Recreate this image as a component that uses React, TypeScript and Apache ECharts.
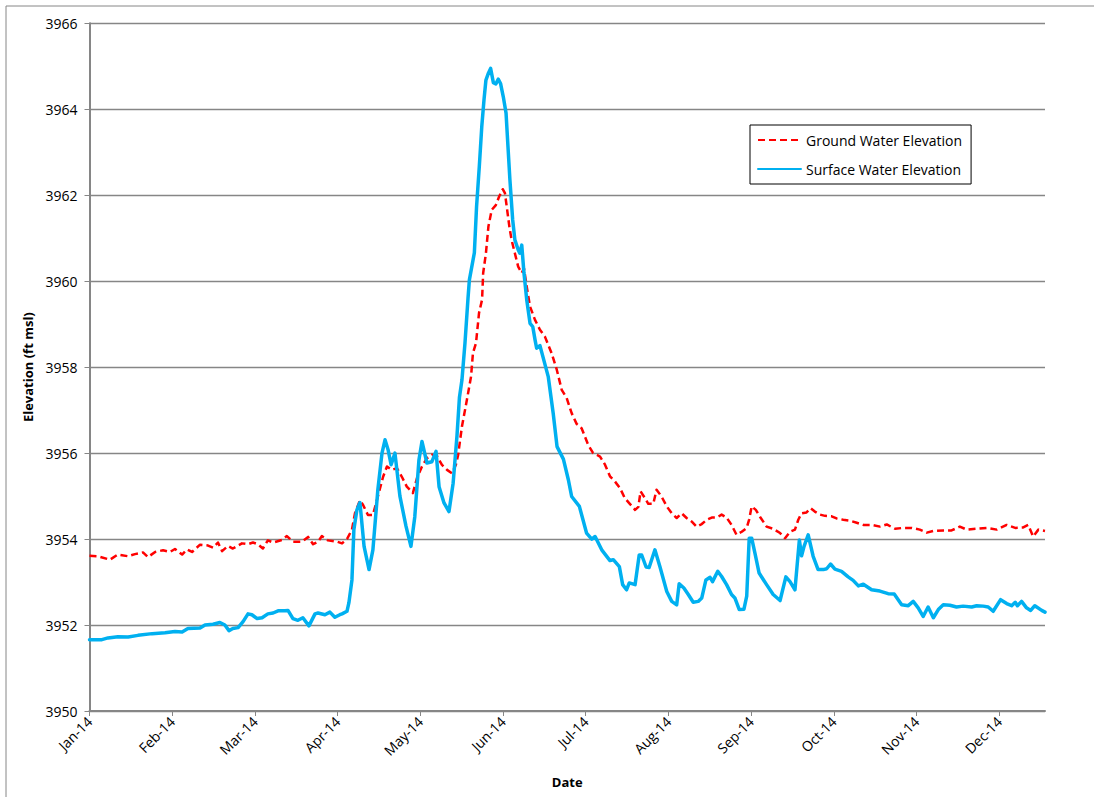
import React, { useEffect, useRef } from "react";
import * as echarts from "echarts";

// x = day index (30 units per month tick), y = elevation (ft msl)
const monthLabels = ["Jan-14", "Feb-14", "Mar-14", "Apr-14", "May-14", "Jun-14", "Jul-14", "Aug-14", "Sep-14", "Oct-14", "Nov-14", "Dec-14"];
const axisDays = { min: 0, max: 346.6, step: 30 };
const elevationTicks = { min: 3950, max: 3966, step: 2 };

const groundWater: [number, number][] = [
  [0, 3953.61], [3.1, 3953.6], [7.4, 3953.52], [10.3, 3953.64], [14, 3953.6], [16.5, 3953.65], [19.4, 3953.69],
  [21.2, 3953.58], [23.8, 3953.7], [26.7, 3953.74], [29.2, 3953.7], [31, 3953.77], [33.6, 3953.64], [35.4, 3953.76],
  [37.2, 3953.7], [40.1, 3953.87], [43, 3953.85], [44.8, 3953.8], [46.6, 3953.92], [48.1, 3953.72], [50.2, 3953.84],
  [52, 3953.78], [55.3, 3953.9], [57.5, 3953.88], [59.3, 3953.92], [61.1, 3953.88], [62.9, 3953.78], [64.7, 3953.97],
  [66.6, 3953.92], [69.8, 3953.98], [71.6, 3954.07], [73.8, 3953.94], [77.1, 3953.94], [79.3, 3954.05], [81.1, 3953.88],
  [82.9, 3953.94], [84.3, 3954.07], [86.5, 3953.97], [89.8, 3953.94], [91.6, 3953.9], [93.4, 3954.0], [95.2, 3954.22],
  [96.3, 3954.6], [98.1, 3954.9], [99.2, 3954.8], [101, 3954.56], [102.8, 3954.56], [104.6, 3954.99], [106.5, 3955.45],
  [107.9, 3955.69], [109.7, 3955.61], [111.5, 3955.65], [113.3, 3955.45], [115.1, 3955.22], [117.3, 3955.07],
  [118.8, 3955.42], [120.6, 3955.69], [122.4, 3955.88], [124.2, 3955.96], [126, 3955.94], [127.8, 3955.73],
  [129.7, 3955.61], [131.5, 3955.53], [132.9, 3955.73], [133.7, 3955.95], [135.1, 3956.62], [136.9, 3957.24],
  [138.4, 3957.78], [139.1, 3958.33], [140.2, 3958.56], [141.3, 3959.26], [142.4, 3959.57], [142.8, 3960.19],
  [143.8, 3960.65], [144.7, 3961.27], [145.9, 3961.66], [147.4, 3961.77], [148.6, 3961.97], [149.9, 3962.14],
  [150.7, 3962.05], [151.5, 3961.66], [152.3, 3961.27], [153.1, 3960.96], [154.3, 3960.65], [155.5, 3960.34],
  [156.8, 3960.19], [157.6, 3960.3], [158.6, 3959.87], [159.8, 3959.41], [161.6, 3959.1], [163.4, 3958.87],
  [165.2, 3958.71], [167.6, 3958.33], [169.5, 3957.94], [171.3, 3957.47], [173.1, 3957.28], [174.9, 3956.93],
  [176.7, 3956.68], [178.5, 3956.58], [180.9, 3956.19], [182.7, 3956.0], [185.2, 3955.92], [187, 3955.73],
  [188.8, 3955.46], [190.6, 3955.34], [192.4, 3955.19], [194.2, 3954.95], [196, 3954.82], [197.9, 3954.68],
  [199.1, 3954.75], [199.9, 3955.11], [201.5, 3954.95], [202.7, 3954.82], [204.5, 3954.82], [205.7, 3955.15],
  [207.5, 3954.99], [209.4, 3954.76], [211.2, 3954.6], [213, 3954.49], [214.8, 3954.6], [216.6, 3954.49],
  [218.4, 3954.41], [220.2, 3954.29], [222.1, 3954.35], [223.9, 3954.45], [225.7, 3954.5], [227.5, 3954.5],
  [229.3, 3954.57], [231.1, 3954.5], [232.9, 3954.33], [234.7, 3954.1], [236.6, 3954.17], [238.4, 3954.26],
  [239.3, 3954.46], [240.2, 3954.76], [241.7, 3954.68], [243.2, 3954.52], [245.6, 3954.29], [248, 3954.24],
  [250.5, 3954.14], [252.3, 3954.02], [254.1, 3954.17], [255.9, 3954.22], [257.1, 3954.45], [258.3, 3954.6],
  [260.1, 3954.62], [261.6, 3954.72], [263.1, 3954.64], [265, 3954.57], [266.8, 3954.54], [269.2, 3954.53],
  [271, 3954.48], [273.4, 3954.45], [275.8, 3954.43], [278.3, 3954.38], [280.7, 3954.33], [283.7, 3954.33],
  [286.7, 3954.29], [289.2, 3954.34], [292.2, 3954.24], [295.2, 3954.26], [298.2, 3954.26], [301.2, 3954.22],
  [303.7, 3954.15], [306.1, 3954.19], [309.7, 3954.2], [312.7, 3954.2], [315.7, 3954.29], [318.2, 3954.22],
  [321.8, 3954.24], [325.4, 3954.26], [329.1, 3954.22], [332.7, 3954.33], [335.8, 3954.26], [338.7, 3954.27],
  [340.5, 3954.33], [342.3, 3954.06], [344.2, 3954.22], [346.6, 3954.19],
];

const surfaceWater: [number, number][] = [
  [0, 3951.66], [4.5, 3951.66], [6.7, 3951.7], [10.3, 3951.73], [14, 3951.72], [17.6, 3951.76], [22.7, 3951.8],
  [27.4, 3951.82], [31, 3951.85], [33.6, 3951.84], [35.7, 3951.92], [40.1, 3951.93], [41.9, 3952.0], [44.8, 3952.02],
  [47.3, 3952.06], [49.1, 3952.0], [50.6, 3951.87], [52, 3951.92], [53.9, 3951.94], [55.7, 3952.08], [57.5, 3952.26],
  [58.9, 3952.24], [60.8, 3952.15], [62.6, 3952.17], [64.7, 3952.26], [66.6, 3952.28], [68.4, 3952.33], [70.9, 3952.33],
  [72, 3952.34], [73.8, 3952.15], [75.6, 3952.11], [77.4, 3952.17], [79.6, 3951.98], [81.8, 3952.26], [82.9, 3952.28],
  [85.4, 3952.24], [87.2, 3952.3], [89, 3952.18], [90.8, 3952.24], [91.6, 3952.26], [93.4, 3952.32], [94.1, 3952.52],
  [95.2, 3953.05], [95.9, 3954.22], [97, 3954.68], [98.1, 3954.85], [99.6, 3953.83], [101.4, 3953.29], [102.8, 3953.75],
  [104.6, 3955.15], [106.1, 3956.0], [107.2, 3956.31], [108.3, 3956.08], [109.4, 3955.73], [110.8, 3956.0],
  [112.6, 3955.0], [114.8, 3954.3], [116.6, 3953.83], [118, 3954.52], [119.5, 3955.84], [120.6, 3956.27],
  [122.4, 3955.77], [124.2, 3955.8], [125.7, 3956.04], [126.8, 3955.22], [128.6, 3954.84], [130.4, 3954.64],
  [131.9, 3955.3], [133.3, 3956.4], [134.2, 3957.3], [135.1, 3957.7], [136.2, 3958.56], [137.3, 3959.6],
  [137.8, 3960.03], [139.6, 3960.66], [140.4, 3961.73], [141.4, 3962.67], [142.3, 3963.6], [143.1, 3964.22],
  [143.8, 3964.68], [144.7, 3964.84], [145.5, 3964.95], [146.5, 3964.62], [147.4, 3964.59], [148.3, 3964.7],
  [149.1, 3964.6], [150.1, 3964.29], [151.1, 3963.91], [151.8, 3963.13], [152.5, 3962.36], [153.5, 3961.43],
  [154.3, 3960.96], [155.5, 3960.73], [156.1, 3960.65], [156.8, 3960.84], [157.6, 3960.19], [158.6, 3959.57],
  [159.8, 3959.02], [160.8, 3958.94], [161.6, 3958.64], [162.2, 3958.44], [163.4, 3958.5], [166.4, 3957.78],
  [168.2, 3956.93], [169.6, 3956.15], [171.9, 3955.86], [173.7, 3955.38], [174.9, 3954.99], [177.7, 3954.76],
  [180.3, 3954.14], [182.2, 3954.0], [183.4, 3954.06], [185.8, 3953.75], [188.8, 3953.5], [190, 3953.52],
  [192.2, 3953.36], [193.4, 3952.94], [194.8, 3952.82], [195.8, 3952.98], [197.9, 3952.94], [199.4, 3953.63],
  [200.3, 3953.63], [201.9, 3953.35], [203, 3953.34], [205.1, 3953.75], [206.9, 3953.36], [209.4, 3952.78],
  [211.2, 3952.55], [213, 3952.47], [213.9, 3952.96], [215.6, 3952.86], [217.2, 3952.71], [219, 3952.53],
  [220.8, 3952.55], [222.1, 3952.63], [223.6, 3953.05], [225.1, 3953.11], [226, 3953.01], [227.9, 3953.25],
  [229.3, 3953.13], [231.1, 3952.94], [232.9, 3952.71], [234.1, 3952.63], [235.7, 3952.36], [237.4, 3952.37],
  [238.4, 3952.67], [239.3, 3954.02], [240.2, 3954.02], [241.4, 3953.67], [242.9, 3953.21], [245.6, 3952.94],
  [248, 3952.71], [250.5, 3952.57], [252.6, 3953.12], [254.1, 3953.01], [255.9, 3952.82], [257.5, 3953.98],
  [258.3, 3953.61], [259.2, 3953.83], [260.7, 3954.1], [262.5, 3953.6], [264.3, 3953.29], [266.2, 3953.29],
  [267.4, 3953.31], [268.8, 3953.42], [270.4, 3953.3], [272.8, 3953.25], [275.2, 3953.12], [277, 3953.04],
  [278.9, 3952.91], [280.7, 3952.95], [283.7, 3952.82], [286.7, 3952.79], [289.7, 3952.73], [291.9, 3952.72],
  [294.6, 3952.47], [297, 3952.45], [298.8, 3952.55], [300.6, 3952.4], [302.4, 3952.2], [304.2, 3952.42],
  [306.1, 3952.17], [307.9, 3952.36], [309.7, 3952.47], [312.1, 3952.46], [314.5, 3952.42], [316.9, 3952.44],
  [320, 3952.42], [321.8, 3952.45], [324.2, 3952.44], [326, 3952.42], [327.8, 3952.32], [330.5, 3952.59],
  [332.7, 3952.5], [334.5, 3952.45], [335.8, 3952.53], [336.6, 3952.45], [338.1, 3952.55], [339.9, 3952.4],
  [341.4, 3952.34], [342.9, 3952.45], [345.4, 3952.34], [346.6, 3952.3],
];

const FONT = "'Open Sans', 'Liberation Sans', sans-serif";
const AXIS_GRAY = "#868686";

export default function App() {
  const ref = useRef<HTMLDivElement>(null);

  useEffect(() => {
    if (!ref.current) return;
    const chart = echarts.init(ref.current, null, { renderer: "svg" });
    chart.setOption({
      animation: false,
      backgroundColor: "#ffffff",
      textStyle: { fontFamily: FONT },
      graphic: [
        {
          type: "rect",
          shape: { x: 6, y: 6, width: 1200, height: 900 },
          style: { fill: "none", stroke: AXIS_GRAY, lineWidth: 1 },
          silent: true,
          z: -10,
        },
      ],
      grid: { left: 89.5, top: 23.3, right: 49, bottom: 86, containLabel: false },
      legend: {
        orient: "vertical",
        left: 750,
        top: 125,
        padding: [8, 9, 8, 7],
        itemGap: 15,
        itemWidth: 43,
        itemHeight: 14,
        borderColor: "#000",
        borderWidth: 1,
        borderRadius: 0,
        backgroundColor: "#fff",
        itemStyle: { opacity: 0 },
        textStyle: { fontFamily: FONT, fontSize: 14, color: "#000" },
        data: ["Ground Water Elevation", "Surface Water Elevation"],
      },
      xAxis: {
        type: "value",
        min: axisDays.min,
        max: axisDays.max,
        interval: axisDays.step,
        name: "Date",
        nameLocation: "middle",
        nameGap: 64,
        nameTextStyle: { fontFamily: FONT, fontSize: 13, fontWeight: "bold", color: "#000" },
        axisLine: { show: true, onZero: false, lineStyle: { color: AXIS_GRAY, width: 2 } },
        axisTick: { show: true, inside: false, length: 5, lineStyle: { color: AXIS_GRAY, width: 1 } },
        splitLine: { show: false },
        axisLabel: {
          rotate: 45,
          margin: 8,
          fontFamily: FONT,
          fontSize: 14,
          color: "#000",
          showMaxLabel: false,
          formatter: (v: number) => {
            const i = Math.round(v / axisDays.step);
            return Math.abs(v - i * axisDays.step) < 1e-6 && i < monthLabels.length ? monthLabels[i] : "";
          },
        },
      },
      yAxis: {
        type: "value",
        min: elevationTicks.min,
        max: elevationTicks.max,
        interval: elevationTicks.step,
        name: "Elevation (ft msl)",
        nameLocation: "middle",
        nameGap: 55,
        nameTextStyle: { fontFamily: FONT, fontSize: 13, fontWeight: "bold", color: "#000" },
        axisLine: { show: true, lineStyle: { color: AXIS_GRAY, width: 2 } },
        axisTick: { show: true, inside: false, length: 5, lineStyle: { color: AXIS_GRAY, width: 1 } },
        splitLine: { show: true, lineStyle: { color: AXIS_GRAY, width: 1.3 } },
        axisLabel: {
          margin: 12,
          fontFamily: FONT,
          fontSize: 14,
          color: "#000",
          formatter: (v: number) => String(v),
        },
      },
      series: [
        {
          name: "Ground Water Elevation",
          type: "line",
          data: groundWater,
          symbol: "none",
          showSymbol: false,
          lineStyle: { color: "#ff0000", width: 2.5, type: [7, 4], join: "round" },
          itemStyle: { color: "#ff0000" },
          z: 2,
        },
        {
          name: "Surface Water Elevation",
          type: "line",
          data: surfaceWater,
          symbol: "none",
          showSymbol: false,
          lineStyle: { color: "#00b0f0", width: 3.5, join: "round", cap: "round" },
          itemStyle: { color: "#00b0f0" },
          z: 3,
        },
      ],
    });
    return () => chart.dispose();
  }, []);

  return (
    <div
      ref={ref}
      style={{ position: "fixed", left: 0, top: 0, width: 1094, height: 797, background: "#fff" }}
    />
  );
}
